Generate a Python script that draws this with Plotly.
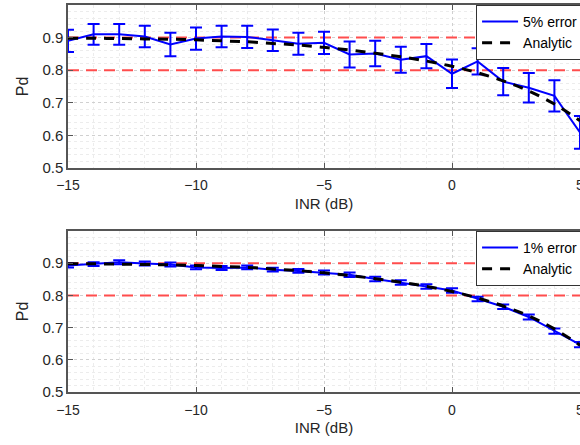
import plotly.graph_objects as go

# INR sweep (dB)
inr = [-15, -14, -13, -12, -11, -10, -9, -8, -7, -6, -5, -4, -3, -2, -1, 0, 1, 2, 3, 4, 5]

# analytic Pd curve
pd_analytic = [0.898, 0.898, 0.897, 0.896, 0.895, 0.893, 0.890, 0.887, 0.882, 0.877, 0.870,
               0.862, 0.852, 0.841, 0.828, 0.812, 0.792, 0.767, 0.736, 0.696, 0.645]

# simulated Pd, 5% error
pd_5 = [0.890, 0.910, 0.910, 0.903, 0.879, 0.897, 0.903, 0.902, 0.892, 0.881, 0.884,
        0.848, 0.851, 0.832, 0.843, 0.789, 0.827, 0.765, 0.746, 0.721, 0.609]
err_5 = [0.034, 0.032, 0.032, 0.033, 0.036, 0.034, 0.033, 0.034, 0.033, 0.034, 0.034,
         0.040, 0.039, 0.040, 0.037, 0.044, 0.040, 0.042, 0.045, 0.048, 0.050]

# simulated Pd, 1% error
pd_1 = [0.893, 0.897, 0.903, 0.899, 0.896, 0.887, 0.885, 0.887, 0.880, 0.876, 0.871,
        0.864, 0.851, 0.840, 0.828, 0.815, 0.789, 0.765, 0.733, 0.689, 0.647]
err_1 = [0.006, 0.006, 0.006, 0.006, 0.006, 0.006, 0.006, 0.006, 0.006, 0.006, 0.006,
         0.007, 0.007, 0.007, 0.007, 0.007, 0.007, 0.007, 0.008, 0.008, 0.008]

thresholds = [0.9, 0.8]

font = "Liberation Sans, Arial, sans-serif"
axcol = "#555555"
txtcol = "#262626"

fig = go.Figure()

panels = [
    ("x", "y", pd_5, err_5, "5% error", "legend"),
    ("x2", "y2", pd_1, err_1, "1% error", "legend2"),
]
for xa, ya, vals, errs, name, leg in panels:
    # threshold lines across the full INR span
    for t in thresholds:
        fig.add_trace(go.Scatter(
            x=[inr[0], inr[-1]], y=[t, t], xaxis=xa, yaxis=ya, mode="lines",
            showlegend=False, hoverinfo="skip", legend=leg,
            line=dict(color="#ff4d4d", width=2, dash="11px,7px"),
        ))
    fig.add_trace(go.Scatter(
        x=inr, y=vals, xaxis=xa, yaxis=ya, mode="lines", name=name, legend=leg,
        line=dict(color="#0000ff", width=2),
        error_y=dict(type="data", array=errs, visible=True, color="#0000ff",
                     thickness=2, width=6),
    ))
    fig.add_trace(go.Scatter(
        x=inr, y=pd_analytic, xaxis=xa, yaxis=ya, mode="lines", name="Analytic",
        legend=leg, line=dict(color="black", width=3, dash="10px,8px", shape="spline"),
    ))

xcommon = dict(
    range=[-15, 5], tickvals=[-15, -10, -5, 0, 5], ticks="inside", ticklen=5,
    tickcolor=axcol, showline=True, linecolor=axcol, linewidth=1.5, mirror="ticks",
    showgrid=True, gridcolor="#d0d0d0", griddash="dot", gridwidth=1, zeroline=False,
    minor=dict(dtick=1, showgrid=True, gridcolor="#ececec", griddash="dot"),
    tickfont=dict(size=14, color=txtcol, family=font), ticklabelstandoff=4,
    ticklabeloverflow="allow", automargin=False,
    title=dict(text="INR (dB)", font=dict(size=15, color=txtcol, family=font), standoff=6),
)
ycommon = dict(
    range=[0.5, 1.0], tickvals=[0.5, 0.6, 0.7, 0.8, 0.9], tickformat=".1f",
    ticks="inside", ticklen=5, tickcolor=axcol, showline=True, linecolor=axcol,
    linewidth=1.5, mirror=False, showgrid=True, gridcolor="#d0d0d0", griddash="dot",
    zeroline=False, automargin=False,
    minor=dict(dtick=0.02, showgrid=True, gridcolor="#ececec", griddash="dot"),
    tickfont=dict(size=15, color=txtcol, family=font),
    title=dict(text="Pd", font=dict(size=16, color=txtcol, family=font), standoff=10),
)

legcommon = dict(
    x=0.797, xanchor="left", yanchor="top", bgcolor="white", bordercolor="#333333",
    borderwidth=1, font=dict(size=14, color="black", family=font), itemwidth=36,
    tracegroupgap=0,
)

fig.update_layout(
    width=580, height=445,
    margin=dict(l=68, r=0, t=5, b=53, autoexpand=False),
    paper_bgcolor="white", plot_bgcolor="white",
    xaxis=dict(xcommon, domain=[0, 1], anchor="y"),
    yaxis=dict(ycommon, domain=[0.579, 1.0], anchor="x"),
    xaxis2=dict(xcommon, domain=[0, 1], anchor="y2"),
    yaxis2=dict(ycommon, domain=[0, 0.416], anchor="x2"),
    legend=dict(legcommon, y=1.0),
    legend2=dict(legcommon, y=0.416),
    showlegend=True,
)

# drop the default page margin so the figure sits at the window corner
fig.write_html("out.html", config={"displayModeBar": False},
               post_script="document.body.style.margin='0';")
